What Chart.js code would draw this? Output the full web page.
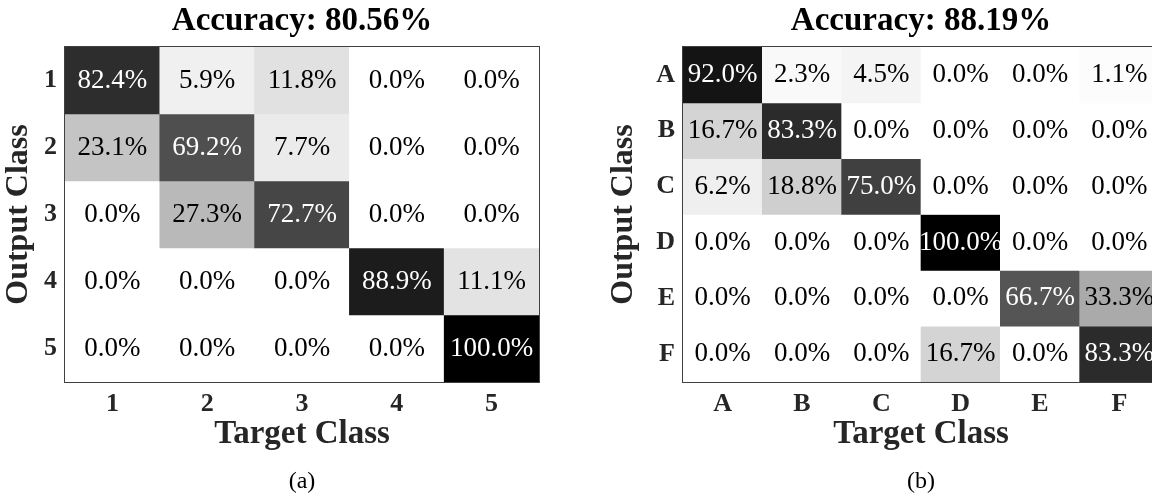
<!DOCTYPE html>
<html>
<head>
<meta charset="utf-8">
<script src="https://cdn.jsdelivr.net/npm/chart.js@4.4.1/dist/chart.umd.min.js"></script>
<style>
  html, body { margin: 0; padding: 0; background: #fff; overflow: hidden; width: 1152px; height: 503px; }
  .panel { position: absolute; top: 0; }
  canvas { display: block; }
</style>
</head>
<body>
<div class="panel" style="left:0px"><canvas id="cmA" width="576" height="503"></canvas></div>
<div class="panel" style="left:576px"><canvas id="cmB" width="600" height="503"></canvas></div>
<script>
// Panel (a): five classes
const classesA = ['1', '2', '3', '4', '5'];
const rowA1 = [82.4, 5.9, 11.8, 0.0, 0.0];
const rowA2 = [23.1, 69.2, 7.7, 0.0, 0.0];
const rowA3 = [0.0, 27.3, 72.7, 0.0, 0.0];
const rowA4 = [0.0, 0.0, 0.0, 88.9, 11.1];
const rowA5 = [0.0, 0.0, 0.0, 0.0, 100.0];
const accuracyA = '80.56';

// Panel (b): six classes
const classesB = ['A', 'B', 'C', 'D', 'E', 'F'];
const rowBA = [92.0, 2.3, 4.5, 0.0, 0.0, 1.1];
const rowBB = [16.7, 83.3, 0.0, 0.0, 0.0, 0.0];
const rowBC = [6.2, 18.8, 75.0, 0.0, 0.0, 0.0];
const rowBD = [0.0, 0.0, 0.0, 100.0, 0.0, 0.0];
const rowBE = [0.0, 0.0, 0.0, 0.0, 66.7, 33.3];
const rowBF = [0.0, 0.0, 0.0, 16.7, 0.0, 83.3];
const accuracyB = '88.19';

const SERIF = '"Liberation Serif", "Times New Roman", Times, serif';
Chart.defaults.font.family = SERIF;
Chart.defaults.animation = false;

// Inverted gray colormap: 0% -> white, 100% -> black
function shade(v) {
  const g = Math.round(255 * (1 - v / 100));
  return 'rgb(' + g + ',' + g + ',' + g + ')';
}

// Percentage text centred in every cell
const cellText = {
  id: 'cellText',
  afterDatasetsDraw(chart) {
    const ctx = chart.ctx;
    ctx.save();
    ctx.font = '27px ' + SERIF;
    ctx.textAlign = 'center';
    ctx.textBaseline = 'middle';
    chart.data.datasets.forEach((ds, r) => {
      const meta = chart.getDatasetMeta(r);
      meta.data.forEach((bar, c) => {
        const v = ds.percent[c];
        ctx.fillStyle = v >= 50 ? '#ffffff' : '#000000';
        ctx.fillText(v.toFixed(1) + '%', bar.x, (bar.y + bar.base) / 2);
      });
    });
    ctx.restore();
  }
};

// Axes box around the matrix
const frame = {
  id: 'frame',
  afterDraw(chart) {
    const { ctx, chartArea: a } = chart;
    ctx.save();
    ctx.strokeStyle = '#404040';
    ctx.lineWidth = 1;
    ctx.strokeRect(a.left - 0.5, a.top - 0.5, a.right - a.left + 1, a.bottom - a.top + 1);
    ctx.restore();
  }
};

function confusionChart(id, labels, rows, accuracy, caption, yWidth, yTitlePad, rightPad) {
  const n = labels.length;
  return new Chart(document.getElementById(id), {
    type: 'bar',
    data: {
      labels: labels,
      datasets: rows.map((row, r) => ({
        label: labels[r],
        data: row.map(() => [r, r + 1]),
        percent: row,
        backgroundColor: row.map(shade),
        borderWidth: 0,
        grouped: false,
        barPercentage: 1,
        categoryPercentage: 1
      }))
    },
    options: {
      responsive: false,
      animation: false,
      events: [],
      layout: { padding: { left: 0, right: rightPad, top: 0, bottom: 0 } },
      plugins: {
        legend: { display: false },
        tooltip: { enabled: false },
        title: {
          display: true,
          text: 'Accuracy: ' + accuracy + '%',
          fullSize: false,
          color: '#000000',
          font: { family: SERIF, size: 33, weight: 'bold' },
          padding: { top: 2, bottom: 5.4 }
        },
        subtitle: {
          display: true,
          text: caption,
          position: 'bottom',
          fullSize: false,
          color: '#000000',
          font: { family: SERIF, size: 24, weight: 'normal' },
          padding: { top: 0, bottom: 6.6 }
        }
      },
      scales: {
        x: {
          type: 'category',
          offset: true,
          grid: { display: false, drawTicks: false },
          border: { display: false },
          ticks: {
            autoSkip: false,
            maxRotation: 0,
            padding: 6.4,
            color: '#262626',
            font: { family: SERIF, size: 26, weight: 'bold' }
          },
          title: {
            display: true,
            text: 'Target Class',
            color: '#262626',
            font: { family: SERIF, size: 33, weight: 'bold' },
            padding: { top: 0, bottom: 13.8 }
          },
          afterFit(scale) { scale.height = 85.6; }
        },
        y: {
          type: 'linear',
          reverse: true,
          min: 0,
          max: n,
          grid: { display: false, drawTicks: false },
          border: { display: false },
          afterBuildTicks(scale) {
            scale.ticks = labels.map((_, i) => ({ value: i + 0.5 }));
          },
          ticks: {
            autoSkip: false,
            padding: 8,
            color: '#262626',
            font: { family: SERIF, size: 26, weight: 'bold' },
            callback: (value, index) => labels[index]
          },
          title: {
            display: true,
            text: 'Output Class',
            color: '#262626',
            font: { family: SERIF, size: 32, weight: 'bold' },
            padding: { top: yTitlePad, bottom: 0 }
          },
          afterFit(scale) { scale.width = yWidth; }
        }
      }
    },
    plugins: [cellText, frame]
  });
}

confusionChart('cmA', classesA, [rowA1, rowA2, rowA3, rowA4, rowA5], accuracyA, '(a)', 65, 0, 37);
confusionChart('cmB', classesB, [rowBA, rowBB, rowBC, rowBD, rowBE, rowBF], accuracyB, '(b)', 107, 29, 17);
</script>
</body>
</html>
